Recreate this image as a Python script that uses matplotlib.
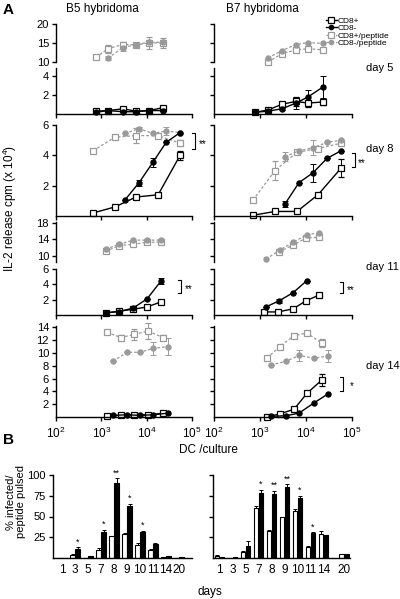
import matplotlib
matplotlib.use('Agg')
import matplotlib.pyplot as plt
from matplotlib.lines import Line2D
from matplotlib.ticker import LogLocator, NullLocator, NullFormatter
import numpy as np

plt.rcParams['font.family'] = ['Liberation Sans', 'DejaVu Sans']
plt.rcParams['mathtext.fontset'] = 'custom'
plt.rcParams['mathtext.rm'] = 'Liberation Sans'
plt.rcParams['mathtext.default'] = 'regular'

# ---------------- Panel A data (IL-2 release cpm x 10^4 vs DC/culture) -------------
# B5 hybridoma, day 5
B5_D5_X = [760, 1400, 3000, 5800, 11300, 23000]
B5_D5_CD8POS = [0.3, 0.36, 0.55, 0.3, 0.36, 0.67]
B5_D5_CD8NEG = [0.18, 0.36, 0.24, 0.24, 0.36, 0.36]
B5_D5_X_POS_PEP = [760, 1400, 3000, 5800, 11300, 23000]
B5_D5_CD8POS_PEP = [11.2, 13.5, 14.6, 14.5, 15.0, 15.0]
B5_D5_CD8POS_PEP_ERR = [0, 1.0, 0.6, 0.6, 1.5, 1.2]
B5_D5_X_NEG_PEP = [1400, 3000, 5800, 11300, 23000]
B5_D5_CD8NEG_PEP = [11.0, 13.8, 14.6, 15.2, 15.2]
B5_D5_CD8NEG_PEP_ERR = [0.5, 0.8, 0.5, 0.6, 0.5]

# B7 hybridoma, day 5
B7_D5_X = [780, 1490, 3000, 6060, 11050, 23430]
B7_D5_CD8POS = [0.18, 0.42, 1.03, 1.33, 1.15, 1.27]
B7_D5_CD8POS_ERR = [0, 0.12, 0.24, 0.48, 0.36, 0.36]
B7_D5_CD8NEG = [0.18, 0.3, 0.55, 1.15, 1.8, 2.85]
B7_D5_CD8NEG_ERR = [0, 0.12, 0.12, 0.6, 0.73, 1.15]
B7_D5_X_PEP = [1490, 3000, 6060, 11050, 23430]
B7_D5_CD8POS_PEP = [10.0, 12.2, 13.2, 13.5, 13.2]
B7_D5_CD8NEG_PEP = [11.1, 13.0, 14.6, 15.1, 14.9]

# B5 hybridoma, day 8
B5_D8_X_SQ = [660, 2000, 5800, 17900, 54600]
B5_D8_X_CI = [3300, 6800, 13800, 26800, 54600]
B5_D8_CD8POS = [0.2, 0.6, 1.25, 1.4, 4.0]
B5_D8_CD8POS_ERR = [0, 0, 0, 0, 0.3]
B5_D8_CD8NEG = [1.05, 2.2, 3.55, 4.85, 5.5]
B5_D8_CD8NEG_ERR = [0, 0.2, 0.3, 0, 0]
B5_D8_CD8POS_PEP = [4.3, 5.2, 5.3, 5.3, 4.8]
B5_D8_CD8POS_PEP_ERR = [0, 0, 0.5, 0, 0.2]
B5_D8_CD8NEG_PEP = [5.45, 5.75, 5.45, 5.6, 5.5]
B5_D8_CD8NEG_PEP_ERR = [0, 0.15, 0, 0.25, 0]

# B7 hybridoma, day 8
B7_D8_X_SQ = [705, 2120, 6370, 18250, 57650]
B7_D8_X_CI = [3500, 7050, 14190, 28620, 57650]
B7_D8_CD8POS = [0.05, 0.3, 0.3, 1.4, 3.15]
B7_D8_CD8POS_ERR = [0, 0, 0, 0, 0.6]
B7_D8_CD8NEG = [0.8, 2.2, 2.85, 3.8, 4.3]
B7_D8_CD8NEG_ERR = [0.2, 0, 0.6, 0, 0]
B7_D8_CD8POS_PEP = [1.05, 3.0, 4.2, 4.45, 4.8]
B7_D8_CD8POS_PEP_ERR = [0, 0.6, 0, 0, 0]
B7_D8_CD8NEG_PEP = [3.9, 4.3, 4.5, 4.85, 5.0]
B7_D8_CD8NEG_PEP_ERR = [0.3, 0, 0.5, 0, 0]

# B5 hybridoma, day 11
B5_D11_X = [1250, 2500, 5000, 10200, 20500]
B5_D11_CD8POS = [0.25, 0.5, 0.75, 1.05, 1.7]
B5_D11_CD8NEG = [0.3, 0.45, 0.9, 2.1, 4.4]
B5_D11_CD8NEG_ERR = [0, 0, 0, 0, 0.4]
B5_D11_CD8POS_PEP = [11.1, 12.5, 12.8, 13.3, 13.3]
B5_D11_CD8NEG_PEP = [11.6, 12.8, 13.8, 13.8, 13.8]

# B7 hybridoma, day 11
B7_D11_X_SQ = [1220, 2460, 5220, 10000, 19180]
B7_D11_X_CI = [1350, 2590, 5220, 10510]
B7_D11_CD8POS = [0.4, 0.4, 0.8, 1.85, 2.6]
B7_D11_CD8NEG = [1.05, 1.85, 2.9, 4.5]
B7_D11_CD8NEG_ERR = [0, 0.3, 0, 0]
B7_D11_X_POS_PEP = [2590, 5220, 10000, 19180]
B7_D11_CD8POS_PEP = [11.0, 12.6, 14.3, 14.5]
B7_D11_X_NEG_PEP = [1350, 2720, 5220, 10510, 19180]
B7_D11_CD8NEG_PEP = [9.2, 11.4, 13.3, 15.1, 15.6]

# B5 hybridoma, day 14
B5_D14_X_SQ = [1340, 2720, 5270, 10700, 23000]
B5_D14_X_CI = [1810, 3690, 7150, 13800, 29600]
B5_D14_CD8POS = [0.1, 0.3, 0.35, 0.3, 0.6]
B5_D14_CD8NEG = [0.25, 0.35, 0.25, 0.35, 0.6]
B5_D14_CD8POS_PEP = [13.2, 12.4, 12.9, 13.4, 12.4]
B5_D14_CD8POS_PEP_ERR = [0.3, 0.4, 0.9, 1.2, 0.4]
B5_D14_CD8NEG_PEP = [8.7, 10.1, 10.1, 10.7, 11.0]
B5_D14_CD8NEG_PEP_ERR = [0, 0, 0, 1.0, 1.4]

# B7 hybridoma, day 14
B7_D14_X_SQ = [1420, 2720, 5480, 10510, 22300]
B7_D14_X_CI = [1730, 3680, 7050, 14900, 30100]
B7_D14_CD8POS = [0.0, 0.5, 1.2, 3.7, 5.8]
B7_D14_CD8POS_ERR = [0, 0, 0, 0, 0.9]
B7_D14_CD8NEG = [0.1, 0.2, 0.6, 2.2, 3.6]
B7_D14_CD8POS_PEP = [9.2, 11.0, 12.7, 13.1, 11.5]
B7_D14_CD8POS_PEP_ERR = [0, 0, 0, 0, 0.6]
B7_D14_CD8NEG_PEP = [8.1, 8.7, 9.6, 9.2, 9.5]
B7_D14_CD8NEG_PEP_ERR = [0, 0, 0.9, 0, 0.9]

LEGEND_LABELS = ['CD8+', 'CD8-', 'CD8+/peptide', 'CD8-/peptide']

# ---------------- Panel B data (% infected / peptide pulsed) ----------------------
DAYS = ['1', '3', '5', '7', '8', '9', '10', '11', '14', '20']
B5_WHITE = [0, 4, 0, 10, 26, 29, 16, 10, 1, 0.5]
B5_WHITE_ERR = [0, 0.5, 0, 2, 1, 1, 2, 1, 0, 0]
B5_BLACK = [0, 11, 2, 31, 90, 63, 31, 17, 2, 1.2]
B5_BLACK_ERR = [0, 2, 0, 3, 6, 2, 2, 1, 0.5, 0]
B5_STARS = ['', '*', '', '*', '**', '*', '*', '', '', '']
B7_WHITE = [3, 0, 7, 60, 33, 49, 57, 13, 29, 5]
B7_WHITE_ERR = [1, 0, 1.5, 3, 1, 1, 2, 2, 3, 0]
B7_BLACK = [1, 1, 14, 78, 77, 86, 72, 30, 28, 5]
B7_BLACK_ERR = [0, 0, 7, 4, 4, 3, 3, 1, 0, 0]
B7_STARS = ['', '', '', '*', '**', '**', '*', '*', '', '']

# ---------------------------------------------------------------------------------
W, H = 400, 599
fig = plt.figure(figsize=(4, 5.99), dpi=100)
GRAY = '#9a9a9a'
TICK_FS = 8


def add_ax(x0, y0, x1, y1):
    return fig.add_axes([x0 / W, 1 - y1 / H, (x1 - x0) / W, (y1 - y0) / H])


STYLES = {
    'pos': dict(color='black', ls='-', marker='s', mfc='white', mec='black', ms=4.5, lw=1.0, mew=0.9),
    'neg': dict(color='black', ls='-', marker='o', mfc='black', mec='black', ms=3.6, lw=1.0),
    'pos_pep': dict(color=GRAY, ls=(0, (2.2, 1.6)), marker='s', mfc='white', mec=GRAY, ms=4.5, lw=0.9, mew=0.9),
    'neg_pep': dict(color=GRAY, ls=(0, (2.2, 1.6)), marker='o', mfc=GRAY, mec=GRAY, ms=3.6, lw=0.9),
}
handles = {}


def series(ax, x, y, kind, err=None):
    st = STYLES[kind]
    c = ax.errorbar(x, y, yerr=err, capsize=2, elinewidth=0.7, capthick=0.7,
                    ecolor=st['color'], **st)
    for a in c.get_children():
        a.set_clip_on(False)
    handles[kind] = c[0]
    return c


def style_ax(ax, ylim, yticks, show_ylabels, xaxis=True, xlabels=False):
    ax.set_xscale('log')
    ax.set_xlim(1e2, 1e5)
    ax.set_ylim(*ylim)
    ax.set_yticks(yticks)
    for s in ['top', 'right']:
        ax.spines[s].set_visible(False)
    for s in ['left', 'bottom']:
        ax.spines[s].set_linewidth(1.0)
    ax.tick_params(axis='y', length=3, width=1.0, labelsize=TICK_FS, pad=2,
                   labelleft=show_ylabels)
    ax.set_facecolor('none')
    if xaxis:
        ax.xaxis.set_major_locator(LogLocator(base=10, numticks=10))
        ax.xaxis.set_minor_locator(NullLocator())
        ax.tick_params(axis='x', length=3, width=1.0, labelsize=TICK_FS + 0.5, pad=3,
                       labelbottom=xlabels)
    else:
        ax.spines['bottom'].set_visible(False)
        ax.xaxis.set_major_locator(NullLocator())
        ax.xaxis.set_minor_locator(NullLocator())
        ax.xaxis.set_major_formatter(NullFormatter())


COLS = {'B5': (56, 192, True), 'B7': (214, 352, False)}

# ---- day 5 (broken axes) ----
for hyb, xs_pos, pos, pos_err, xs_neg, neg, neg_err, xpp, pp, pp_err, xnp, npp, np_err in [
    ('B5', B5_D5_X, B5_D5_CD8POS, None, B5_D5_X, B5_D5_CD8NEG, None,
     B5_D5_X_POS_PEP, B5_D5_CD8POS_PEP, B5_D5_CD8POS_PEP_ERR,
     B5_D5_X_NEG_PEP, B5_D5_CD8NEG_PEP, B5_D5_CD8NEG_PEP_ERR),
    ('B7', B7_D5_X, B7_D5_CD8POS, B7_D5_CD8POS_ERR, B7_D5_X, B7_D5_CD8NEG, B7_D5_CD8NEG_ERR,
     B7_D5_X_PEP, B7_D5_CD8POS_PEP, None, B7_D5_X_PEP, B7_D5_CD8NEG_PEP, None)]:
    x0, x1, lab = COLS[hyb]
    up = add_ax(x0, 24, x1, 62)
    series(up, xpp, pp, 'pos_pep', pp_err)
    series(up, xnp, npp, 'neg_pep', np_err)
    style_ax(up, (10, 20), [10, 15, 20], lab, xaxis=False)
    lo = add_ax(x0, 68, x1, 114)
    series(lo, xs_pos, pos, 'pos', pos_err)
    series(lo, xs_neg, neg, 'neg', neg_err)
    style_ax(lo, (0, 4.85), [2, 4], lab)

# ---- day 8 ----
for hyb, xsq, xci, pos, pos_err, neg, neg_err, pp, pp_err, npp, np_err in [
    ('B5', B5_D8_X_SQ, B5_D8_X_CI, B5_D8_CD8POS, B5_D8_CD8POS_ERR, B5_D8_CD8NEG, B5_D8_CD8NEG_ERR,
     B5_D8_CD8POS_PEP, B5_D8_CD8POS_PEP_ERR, B5_D8_CD8NEG_PEP, B5_D8_CD8NEG_PEP_ERR),
    ('B7', B7_D8_X_SQ, B7_D8_X_CI, B7_D8_CD8POS, B7_D8_CD8POS_ERR, B7_D8_CD8NEG, B7_D8_CD8NEG_ERR,
     B7_D8_CD8POS_PEP, B7_D8_CD8POS_PEP_ERR, B7_D8_CD8NEG_PEP, B7_D8_CD8NEG_PEP_ERR)]:
    x0, x1, lab = COLS[hyb]
    ax = add_ax(x0, 125, x1, 216)
    series(ax, xsq, pp, 'pos_pep', pp_err)
    series(ax, xci, npp, 'neg_pep', np_err)
    series(ax, xsq, pos, 'pos', pos_err)
    series(ax, xci, neg, 'neg', neg_err)
    style_ax(ax, (0, 6), [2, 4, 6], lab)

# ---- day 11 (broken axes) ----
for hyb, xsq, pos, xci, neg, neg_err, xpp, pp, xnp, npp in [
    ('B5', B5_D11_X, B5_D11_CD8POS, B5_D11_X, B5_D11_CD8NEG, B5_D11_CD8NEG_ERR,
     B5_D11_X, B5_D11_CD8POS_PEP, B5_D11_X, B5_D11_CD8NEG_PEP),
    ('B7', B7_D11_X_SQ, B7_D11_CD8POS, B7_D11_X_CI, B7_D11_CD8NEG, B7_D11_CD8NEG_ERR,
     B7_D11_X_POS_PEP, B7_D11_CD8POS_PEP, B7_D11_X_NEG_PEP, B7_D11_CD8NEG_PEP)]:
    x0, x1, lab = COLS[hyb]
    up = add_ax(x0, 222, x1, 262)
    series(up, xpp, pp, 'pos_pep')
    series(up, xnp, npp, 'neg_pep')
    style_ax(up, (8.5, 18.2), [10, 14, 18], lab, xaxis=False)
    lo = add_ax(x0, 269, x1, 315)
    series(lo, xsq, pos, 'pos')
    series(lo, xci, neg, 'neg', neg_err)
    style_ax(lo, (0, 6), [2, 4, 6], lab)

# ---- day 14 ----
for hyb, xsq, xci, pos, pos_err, neg, pp, pp_err, npp, np_err in [
    ('B5', B5_D14_X_SQ, B5_D14_X_CI, B5_D14_CD8POS, None, B5_D14_CD8NEG,
     B5_D14_CD8POS_PEP, B5_D14_CD8POS_PEP_ERR, B5_D14_CD8NEG_PEP, B5_D14_CD8NEG_PEP_ERR),
    ('B7', B7_D14_X_SQ, B7_D14_X_CI, B7_D14_CD8POS, B7_D14_CD8POS_ERR, B7_D14_CD8NEG,
     B7_D14_CD8POS_PEP, B7_D14_CD8POS_PEP_ERR, B7_D14_CD8NEG_PEP, B7_D14_CD8NEG_PEP_ERR)]:
    x0, x1, lab = COLS[hyb]
    ax = add_ax(x0, 326, x1, 417)
    series(ax, xsq, pp, 'pos_pep', pp_err)
    series(ax, xci, npp, 'neg_pep', np_err)
    series(ax, xsq, pos, 'pos', pos_err)
    series(ax, xci, neg, 'neg')
    style_ax(ax, (0, 14.2), [2, 4, 6, 8, 10, 12, 14], lab, xlabels=True)

# legend
fig.legend([handles[k] for k in ['pos', 'neg', 'pos_pep', 'neg_pep']], LEGEND_LABELS,
           loc='upper left', bbox_to_anchor=(326 / W, 1 - 17 / H), frameon=False,
           fontsize=6, handlelength=1.3, handletextpad=0.15, labelspacing=-0.05,
           borderpad=0, borderaxespad=0, markerscale=0.85)


def ftext(x, y, s, **kw):
    fig.text(x / W, 1 - y / H, s, **kw)


def bracket(x, y0, y1, stars, tx, ty):
    xs = np.array([x - 3, x, x, x - 3]) / W
    ys = 1 - np.array([y0, y0, y1, y1]) / H
    fig.add_artist(Line2D(xs, ys, transform=fig.transFigure, color='black', lw=0.8))
    ftext(tx, ty, stars, fontsize=7, va='center', ha='left')


ftext(3, 10, 'A', fontsize=11, fontweight='bold', va='center', ha='left')
ftext(102, 9, 'B5 hybridoma', fontsize=8.5, va='center', ha='center')
ftext(262, 9, 'B7 hybridoma', fontsize=8.5, va='center', ha='center')
for lbl, y in [('day 5', 68), ('day 8', 149), ('day 11', 267), ('day 14', 366)]:
    ftext(366, y, lbl, fontsize=8, va='center', ha='left')
ftext(10, 208, 'IL-2 release cpm (x 10$^4$)', fontsize=8.5, rotation=90, va='center', ha='center')
ftext(208, 450, 'DC /culture', fontsize=8.5, va='center', ha='center')

bracket(195, 133, 149, '**', 199, 144)
bracket(355, 153, 167, '**', 358, 163)
bracket(181, 280, 293, '**', 185, 289)
bracket(343, 282, 293, '**', 347, 290)
bracket(343, 377, 391, '*', 350, 386)

# ---------------- Panel B ----------------
ftext(3, 440, 'B', fontsize=11, fontweight='bold', va='center', ha='left')
ftext(16, 502, '% infected/\npeptide pulsed', fontsize=8, rotation=90, va='center',
      ha='center', multialignment='center', linespacing=1.0)
ftext(210, 592, 'days', fontsize=8.5, va='center', ha='center')

BW = 0.36
for (x0, x1, xl, white, werr, black, berr, stars, lab, shift_last) in [
    (53, 192, (-0.7, 10.0), B5_WHITE, B5_WHITE_ERR, B5_BLACK, B5_BLACK_ERR, B5_STARS, True, 0.0),
    (213, 350, (-0.5, 10.04), B7_WHITE, B7_WHITE_ERR, B7_BLACK, B7_BLACK_ERR, B7_STARS, False, 0.6)]:
    ax = add_ax(x0, 475, x1, 558)
    pos = np.arange(len(DAYS), dtype=float)
    pos[-1] += shift_last
    zeros = np.zeros(len(DAYS))
    ax.bar(pos - 0.19, white, BW, color='white', edgecolor='black', linewidth=0.8,
           yerr=[zeros, werr], error_kw=dict(elinewidth=0.7, capsize=1.5, capthick=0.7))
    ax.bar(pos + 0.19, black, BW, color='black', edgecolor='black', linewidth=0.8,
           yerr=[zeros, berr], error_kw=dict(elinewidth=0.7, capsize=1.5, capthick=0.7))
    for p, b, e, s in zip(pos, black, berr, stars):
        if s:
            ax.text(p + 0.19, b + e + 1, s, ha='center', va='bottom', fontsize=6.5, clip_on=False)
    ax.set_xlim(*xl)
    ax.set_ylim(0, 100)
    ax.set_yticks([25, 50, 75, 100])
    ax.set_xticks(pos)
    ax.set_xticklabels(DAYS)
    for s in ['top', 'right']:
        ax.spines[s].set_visible(False)
    for s in ['left', 'bottom']:
        ax.spines[s].set_linewidth(1.0)
    ax.set_facecolor('none')
    ax.tick_params(axis='x', length=0, labelsize=8.5, pad=4)
    ax.tick_params(axis='y', length=3, width=1.0, labelsize=8, pad=2, labelleft=lab)

fig.savefig('out.png', dpi=100)
